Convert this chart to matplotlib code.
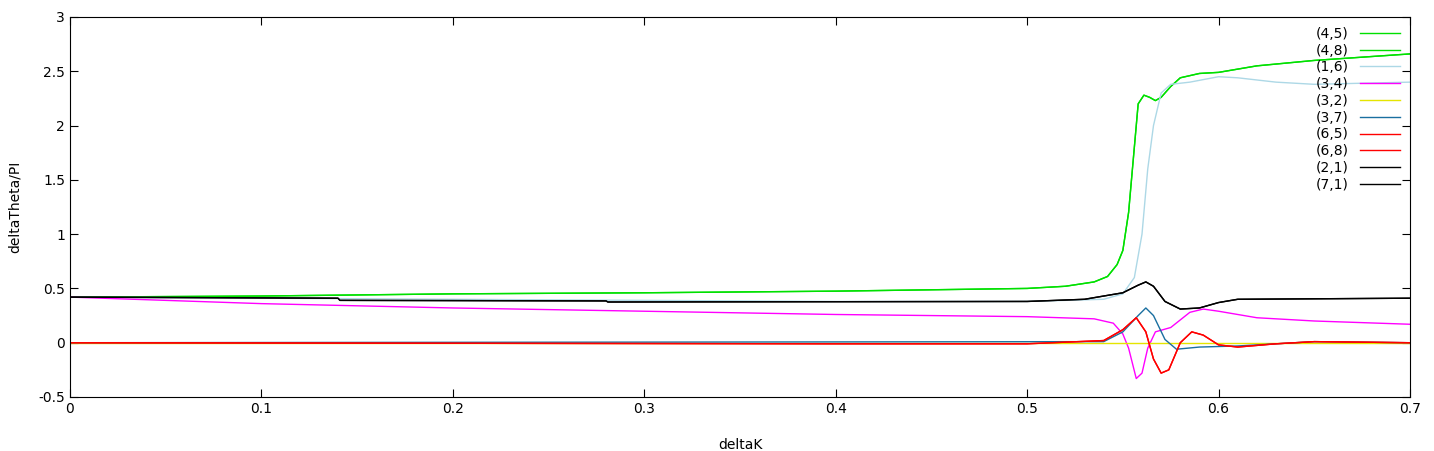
import matplotlib
matplotlib.use('Agg')
import matplotlib.pyplot as plt

# (4,5) / (4,8)
green_x = [0, 0.1, 0.2, 0.3, 0.4, 0.5, 0.52, 0.535, 0.542, 0.547, 0.55, 0.553, 0.556, 0.558, 0.561, 0.564, 0.567, 0.57, 0.575, 0.58, 0.59, 0.6, 0.62, 0.65, 0.7]
green_y = [0.42, 0.43, 0.45, 0.46, 0.475, 0.50, 0.52, 0.56, 0.61, 0.72, 0.85, 1.2, 1.8, 2.2, 2.28, 2.26, 2.23, 2.26, 2.36, 2.44, 2.48, 2.49, 2.55, 2.6, 2.66]
# (1,6)
blue_x = [0, 0.2, 0.4, 0.5, 0.54, 0.55, 0.556, 0.56, 0.563, 0.566, 0.57, 0.575, 0.585, 0.6, 0.61, 0.63, 0.65, 0.7]
blue_y = [0.42, 0.40, 0.38, 0.38, 0.40, 0.45, 0.6, 1.0, 1.6, 2.0, 2.3, 2.38, 2.40, 2.45, 2.44, 2.40, 2.38, 2.40]
# (3,4)
mag_x = [0, 0.1, 0.2, 0.3, 0.4, 0.5, 0.535, 0.545, 0.55, 0.553, 0.557, 0.56, 0.563, 0.567, 0.575, 0.585, 0.592, 0.6, 0.62, 0.65, 0.7]
mag_y = [0.42, 0.36, 0.32, 0.29, 0.26, 0.24, 0.22, 0.18, 0.08, -0.05, -0.33, -0.28, -0.05, 0.10, 0.14, 0.28, 0.31, 0.29, 0.23, 0.20, 0.17]
# (3,2)
yel_x = [0, 0.7]
yel_y = [0, 0]
# (3,7)
teal_x = [0, 0.54, 0.55, 0.558, 0.562, 0.566, 0.572, 0.578, 0.59, 0.61, 0.65, 0.7]
teal_y = [0, 0.01, 0.1, 0.25, 0.32, 0.25, 0.03, -0.06, -0.04, -0.03, 0.01, 0.0]
# (6,5) / (6,8)
red_x = [0, 0.395, 0.5, 0.54, 0.55, 0.557, 0.562, 0.566, 0.57, 0.574, 0.58, 0.586, 0.592, 0.6, 0.61, 0.63, 0.65, 0.7]
red_y = [0, -0.01, -0.01, 0.02, 0.12, 0.23, 0.1, -0.15, -0.28, -0.25, 0.0, 0.10, 0.07, -0.02, -0.04, -0.01, 0.01, 0.0]
# (2,1) / (7,1)
blk_x = [0, 0.14, 0.141, 0.28, 0.281, 0.5, 0.53, 0.55, 0.558, 0.562, 0.566, 0.572, 0.58, 0.59, 0.6, 0.61, 0.7]
blk_y = [0.42, 0.41, 0.39, 0.385, 0.375, 0.38, 0.40, 0.46, 0.53, 0.56, 0.52, 0.38, 0.31, 0.32, 0.37, 0.40, 0.41]

fig = plt.figure(figsize=(14.34, 4.51), dpi=100)
ax = fig.add_axes([70/1434, 1-397/451, 1340/1434, 380/451])
lw = 1.0
ax.plot(green_x, green_y, color='#00e000', lw=lw, label='(4,5)')
ax.plot(green_x, green_y, color='#00e000', lw=lw, label='(4,8)')
ax.plot(blue_x, blue_y, color='#add8e6', lw=lw, label='(1,6)')
ax.plot(mag_x, mag_y, color='#ff00ff', lw=lw, label='(3,4)')
ax.plot(yel_x, yel_y, color='#e5e500', lw=lw, label='(3,2)')
ax.plot(teal_x, teal_y, color='#1a6fa0', lw=lw, label='(3,7)')
ax.plot(red_x, red_y, color='#ff0000', lw=lw, label='(6,5)')
ax.plot(red_x, red_y, color='#ff0000', lw=lw, label='(6,8)')
ax.plot(blk_x, blk_y, color='black', lw=lw, label='(2,1)')
ax.plot(blk_x, blk_y, color='black', lw=lw, label='(7,1)')

ax.set_xlim(0, 0.7)
ax.set_ylim(-0.5, 3)
ax.set_xticks([0, 0.1, 0.2, 0.3, 0.4, 0.5, 0.6, 0.7])
ax.set_xticklabels(['0', '0.1', '0.2', '0.3', '0.4', '0.5', '0.6', '0.7'])
ax.set_yticks([-0.5, 0, 0.5, 1, 1.5, 2, 2.5, 3])
ax.set_yticklabels(['-0.5', '0', '0.5', '1', '1.5', '2', '2.5', '3'])
ax.tick_params(direction='in', top=True, right=True, labelsize=10, length=6)
ax.set_xlabel('deltaK', fontsize=10, labelpad=16)
ax.set_ylabel('deltaTheta/PI', fontsize=10, labelpad=12)
ax.legend(loc='upper right', frameon=False, markerfirst=False, fontsize=10,
          handlelength=2.9, labelspacing=0.2, borderaxespad=0.3)
fig.savefig('out.png', dpi=100)
